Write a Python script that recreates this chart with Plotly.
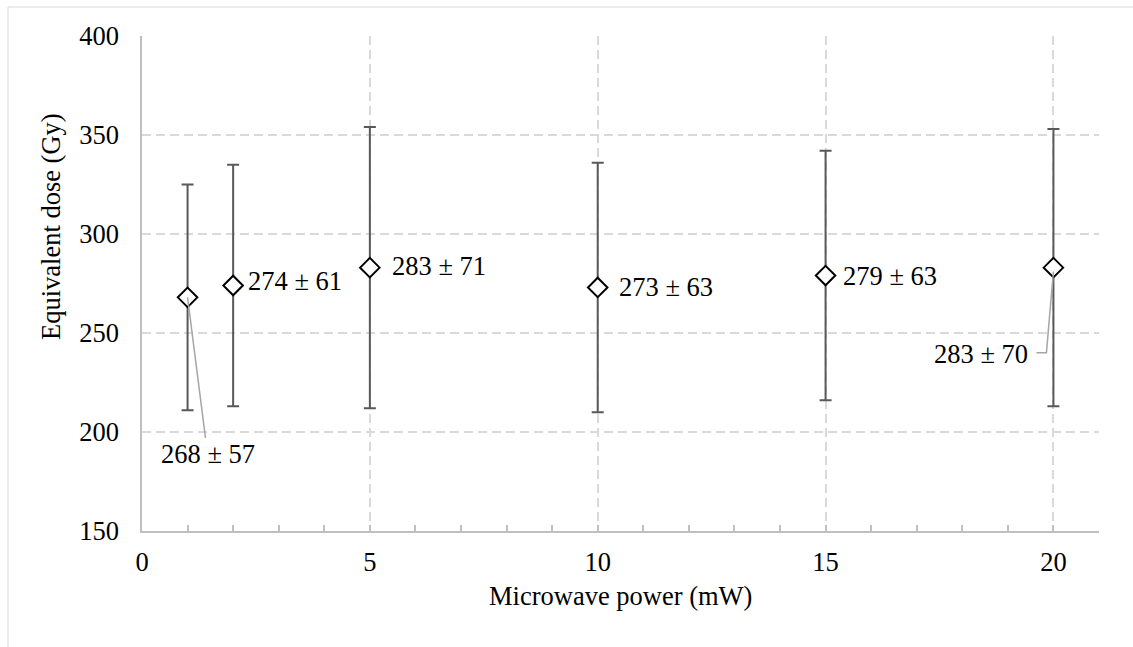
import plotly.graph_objects as go

# ---- data ----
power_mw = [1, 2, 5, 10, 15, 20]
dose_gy = [268, 274, 283, 273, 279, 283]
dose_err = [57, 61, 71, 63, 63, 70]
x_ticks = [0, 5, 10, 15, 20]
y_ticks = [150, 200, 250, 300, 350, 400]

# ---- label placement (style: pixel offsets from each point) ----
# (mode, dx, dy) : "right" -> text right of point, "arrow" -> straight leader,
# "elbow" -> text with elbow leader line
label_style = [
    ("arrow", 20, 157),
    ("right", 13, -4),
    ("right", 20, -2),
    ("right", 19, 0),
    ("right", 15, 0),
    ("elbow", -72, 86),
]

FONT = "Liberation Serif"
FS = 26.5
W, H = 1133, 647
L, R, T, B = 142, 34, 36, 116
PW, PH = W - L - R, H - T - B

fig = go.Figure()
fig.add_trace(go.Scatter(
    x=power_mw, y=dose_gy, mode="markers",
    marker=dict(symbol="diamond", size=15, color="white",
                line=dict(color="black", width=2)),
    error_y=dict(type="data", array=dose_err, visible=True,
                 color="#595959", thickness=2, width=6),
    showlegend=False, hoverinfo="x+y",
))

annotations = []
shapes = []
for xv, yv, ev, (mode, dx, dy) in zip(power_mw, dose_gy, dose_err, label_style):
    txt = f"{yv} ± {ev}"
    font = dict(family=FONT, size=FS, color="black")
    if mode == "right":
        annotations.append(dict(
            x=xv, y=yv, xref="x", yref="y", text=txt, showarrow=False,
            xanchor="left", yanchor="middle", xshift=dx, yshift=-dy, font=font))
    elif mode == "arrow":
        annotations.append(dict(
            x=xv, y=yv, xref="x", yref="y", text=txt, showarrow=True,
            ax=dx, ay=dy, axref="pixel", ayref="pixel",
            arrowhead=0, arrowwidth=1.5, arrowcolor="#a6a6a6", standoff=0,
            font=font))
    else:
        annotations.append(dict(
            x=xv, y=yv, xref="x", yref="y", text=txt, showarrow=False,
            xanchor="center", yanchor="middle", xshift=dx, yshift=-dy, font=font))
        # elbow leader: short horizontal stub from text, then up to the point
        shapes.append(dict(
            type="path", xref="x", yref="y", xsizemode="pixel", ysizemode="pixel",
            xanchor=xv, yanchor=yv,
            path=f"M{dx + 55},{-dy + 1} L{dx + 65},{-dy + 1} L0,-4",
            line=dict(color="#a6a6a6", width=1.5), layer="above"))

# axis titles
annotations.append(dict(
    text="Microwave power (mW)", x=0.5, y=0, xref="paper", yref="paper",
    xanchor="center", yanchor="middle", yshift=-65, showarrow=False,
    font=dict(family=FONT, size=FS, color="black")))
annotations.append(dict(
    text="Equivalent dose (Gy)", x=0, y=0.5, xref="paper", yref="paper",
    xanchor="center", yanchor="middle", xshift=-(L - 51), yshift=(T + PH / 2) - 227,
    textangle=-90, showarrow=False,
    font=dict(family=FONT, size=FS, color="black")))

# chart-area border (extends past the cropped image on right/bottom)
shapes.append(dict(
    type="rect", xref="paper", yref="paper",
    x0=(8 - L) / PW, x1=(W + 10 - L) / PW,
    y0=-(H + 10 - T - PH) / PH, y1=(T + PH - 7) / PH,
    line=dict(color="#d9d9d9", width=1), fillcolor="rgba(0,0,0,0)", layer="below"))

fig.update_layout(
    width=W, height=H,
    margin=dict(l=L, r=R, t=T, b=B, pad=0),
    paper_bgcolor="white", plot_bgcolor="white",
    font=dict(family=FONT, size=FS, color="black"),
    annotations=annotations, shapes=shapes,
    xaxis=dict(
        range=[0, 21], tickmode="array", tickvals=x_ticks,
        ticktext=[str(v) for v in x_ticks],
        showgrid=True, gridcolor="#d9d9d9", gridwidth=1.5, griddash="9px,5px",
        zeroline=False, showline=True, linecolor="#bfbfbf", linewidth=1.5,
        ticks="inside", ticklen=6, tickwidth=1.5, tickcolor="#bfbfbf",
        minor=dict(dtick=1, tick0=0, ticks="inside", ticklen=6, tickwidth=1.5,
                   tickcolor="#bfbfbf", showgrid=False),
        ticklabelstandoff=6,
        tickfont=dict(family=FONT, size=FS, color="black"),
    ),
    yaxis=dict(
        range=[150, 400], tickmode="array", tickvals=y_ticks,
        ticktext=[str(v) for v in y_ticks],
        showgrid=True, gridcolor="#d9d9d9", gridwidth=1.5, griddash="9px,5px",
        zeroline=False, showline=True, linecolor="#bfbfbf", linewidth=1.5,
        ticks="", ticklabelstandoff=16,
        tickfont=dict(family=FONT, size=FS, color="black"),
    ),
)

fig.write_html("out.html")
